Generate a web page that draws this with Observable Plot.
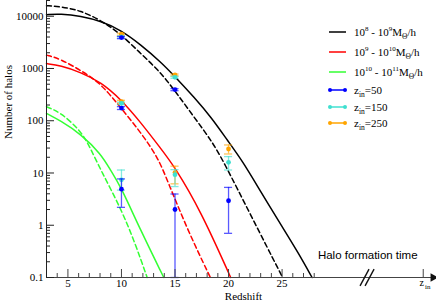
<!DOCTYPE html>
<html><head><meta charset="utf-8">
<script src="https://cdn.jsdelivr.net/npm/d3@7"></script>
<script src="https://cdn.jsdelivr.net/npm/@observablehq/plot@0.6"></script>
<style>
body{margin:0;background:#fff;}
#wrap{position:relative;width:436px;height:305px;font-family:"Liberation Serif","Times New Roman",serif;}
#legend .row{position:absolute;left:328px;height:14px;display:flex;align-items:center;font-size:11px;white-space:nowrap;color:#000;}
#legend svg{margin-right:7px;}
sup{font-size:7px;vertical-align:5px;line-height:0;}
sub{font-size:7.5px;vertical-align:-3px;line-height:0;}
</style></head>
<body><div id="wrap"><div id="chart"></div><div id="legend"></div></div>
<script>
// ---- curves: redshift z vs number of halos ----
const bsZ = [3, 4.3, 6.2, 8.1, 9.9, 11.8, 13.7, 15, 16.8, 18.4, 19.9, 21.3, 23, 25, 26.5, 27.8];
const bsN = [10700, 11100, 10100, 8000, 5500, 2870, 1315, 700, 280, 115, 42, 17, 4.4, 0.94, 0.30, 0.1];
const bdZ = [3, 4.3, 6.2, 8.1, 9.9, 11.8, 13.7, 15.2, 16.8, 18.4, 19.5, 22.1, 25.05];
const bdN = [15900, 15300, 12850, 8270, 4650, 1930, 830, 326, 116, 41.6, 17.2, 1.52, 0.1];
const rsZ = [3, 4.3, 6.2, 8.1, 9.9, 11.8, 13.7, 14.9, 17.4, 20.2];
const rsN = [1240, 1140, 845, 544, 262, 93, 28.8, 13.8, 1.9, 0.1];
const rdZ = [3, 4.3, 6.5, 8.1, 9.9, 11.8, 13.4, 14.3, 16.2, 18.3];
const rdN = [1800, 1530, 845, 507, 181, 60, 19.9, 7.1, 0.79, 0.1];
const gsZ = [3, 4.3, 6.2, 8.1, 9.0, 9.9, 11.8, 13.95];
const gsN = [138, 100, 55.8, 23.1, 11.1, 5.7, 0.79, 0.1];
const gdZ = [3, 4.3, 6.2, 7.1, 8.1, 9.9, 11.2, 12.4];
const gdN = [185, 145, 64.6, 30, 11, 2.19, 0.5, 0.1];

// ---- simulation points with error bars ----
const z50Z  = [10, 10, 10, 15, 15, 20];
const z50N  = [3900, 175, 4.9, 394, 2.0, 2.94];
const z50Lo = [3720, 164, 2.2, 376, 0.1, 0.7];
const z50Hi = [4080, 186, 7.7, 412, 3.96, 5.3];
const z150Z  = [10, 10, 10, 15, 15, 20];
const z150N  = [4000, 215, 7.4, 678, 9.3, 16];
const z150Lo = [3820, 203, 4.7, 650, 5.5, 11.4];
const z150Hi = [4180, 227, 11.4, 706, 11.6, 20.6];
const z250Z  = [10, 10, 15, 15, 20];
const z250N  = [4520, 232, 753, 10.2, 28.8];
const z250Lo = [4320, 218, 722, 6.2, 23.1];
const z250Hi = [4720, 246, 784, 13.5, 34.4];

// ---- axes ----
const xMajor = [5, 10, 15, 20, 25];
const xMinor = [4, 6, 7, 8, 9, 11, 12, 13, 14, 16, 17, 18, 19, 21, 22, 23, 24, 26, 27, 28];
const yMajor = [0.1, 1, 10, 100, 1000, 10000];
const yMinor = [0.2,0.3,0.4,0.5,0.6,0.7,0.8,0.9, 2,3,4,5,6,7,8,9, 20,30,40,50,60,70,80,90,
                200,300,400,500,600,700,800,900, 2000,3000,4000,5000,6000,7000,8000,9000, 20000];
const xDomain = [3, 39.42];
const yDomain = [0.1, 20000];
const zinTick = [38.18];
const xLabel = "Redshift";
const yLabel = "Number of halos";
const noteText = "Halo formation time";
const noteZ = 33.0;
const breakMarks = [{x1: 32.28, y1: 0.0693, x2: 33.12, y2: 0.1448}, {x1: 32.75, y1: 0.0693, x2: 33.59, y2: 0.1448}];
const arrowZ = [39.1];

const W = 436, H = 305, mL = 46, mB = 28;
const PW = W - mL, PH = H - mB;

const rows = (zs, ns) => zs.map((z, i) => ({z, n: ns[i]}));
const pts = (zs, ns, lo, hi) => zs.map((z, i) => ({z, n: ns[i], lo: lo[i], hi: hi[i]}));
const capHalf = 0.38;

const curves = [
  {d: rows(bsZ, bsN), c: "#000000", dash: null},
  {d: rows(bdZ, bdN), c: "#000000", dash: "5,3"},
  {d: rows(rsZ, rsN), c: "#ff0000", dash: null},
  {d: rows(rdZ, rdN), c: "#ff0000", dash: "5,3"},
  {d: rows(gsZ, gsN), c: "#33ff33", dash: null},
  {d: rows(gdZ, gdN), c: "#33ff33", dash: "5,3"},
];
const groups = [
  {d: pts(z250Z, z250N, z250Lo, z250Hi), c: "#ffa500"},
  {d: pts(z150Z, z150N, z150Lo, z150Hi), c: "#40e0d0"},
  {d: pts(z50Z, z50N, z50Lo, z50Hi), c: "#0000ff"},
];

const axisCol = "#444";
const marks = [];
curves.forEach(s => marks.push(Plot.line(s.d, {x: "z", y: "n", stroke: s.c, strokeWidth: 1.5, strokeDasharray: s.dash, curve: "basis"})));
groups.forEach(g => {
  marks.push(Plot.ruleX(g.d, {x: "z", y1: "lo", y2: "hi", stroke: g.c, strokeOpacity: 0.65, strokeWidth: 1.3}));
  marks.push(Plot.ruleY(g.d, {y: "lo", x1: d => d.z - capHalf, x2: d => d.z + capHalf, stroke: g.c, strokeOpacity: 0.65, strokeWidth: 1.3}));
  marks.push(Plot.ruleY(g.d, {y: "hi", x1: d => d.z - capHalf, x2: d => d.z + capHalf, stroke: g.c, strokeOpacity: 0.65, strokeWidth: 1.3}));
  marks.push(Plot.dot(g.d, {x: "z", y: "n", r: 2.4, fill: g.c, stroke: "none"}));
});
// axes lines
marks.push(Plot.ruleX([xDomain[0]], {stroke: "#222", strokeWidth: 1}));
marks.push(Plot.ruleY([yDomain[0]], {stroke: axisCol, strokeWidth: 1.2}));
// y ticks (inward)
marks.push(Plot.tickY(yMajor, {y: d => d, insetRight: PW - 8, stroke: "#222"}));
marks.push(Plot.tickY(yMinor, {y: d => d, insetRight: PW - 4, stroke: "#222"}));
// x ticks (inward)
marks.push(Plot.tickX(xMajor, {x: d => d, insetTop: PH - 8, stroke: axisCol}));
marks.push(Plot.tickX(xMinor, {x: d => d, insetTop: PH - 4, stroke: axisCol}));
marks.push(Plot.tickX(zinTick, {x: d => d, insetTop: PH - 8, stroke: axisCol}));
// tick labels
marks.push(Plot.axisY(yMajor, {tickSize: 0, tickPadding: 3, tickFormat: d => String(d), label: null, fontSize: 11}));
marks.push(Plot.axisX(xMajor, {tickSize: 0, tickPadding: 2, tickFormat: d => String(d), label: null, fontSize: 11}));
// axis titles
marks.push(Plot.text([yLabel], {text: d => d, frameAnchor: "left", rotate: -90, dx: -38, fontSize: 11}));
marks.push(Plot.text([xLabel], {text: d => d, frameAnchor: "bottom", dx: 2, dy: 22.5, fontSize: 11}));
// z_in label
marks.push(Plot.text(zinTick, {x: d => d, text: () => "z", frameAnchor: "bottom", dy: 8, dx: -1.5, fontSize: 10}));
marks.push(Plot.text(zinTick, {x: d => d, text: () => "in", frameAnchor: "bottom", dy: 11, dx: 4.5, fontSize: 7}));
// annotation
marks.push(Plot.text([noteText], {x: noteZ, text: d => d, frameAnchor: "bottom", dy: -19, fontSize: 11.5, fontFamily: "Liberation Sans, Arial, sans-serif"}));
// axis break and arrow
marks.push(Plot.link(breakMarks, {x1: "x1", y1: "y1", x2: "x2", y2: "y2", stroke: "#111", strokeWidth: 1.4}));
marks.push(Plot.dot(arrowZ, {x: d => d, y: yDomain[0], symbol: "triangle", rotate: 90, r: 3.2, fill: "#111", stroke: "none"}));

const chart = Plot.plot({
  width: W, height: H, marginLeft: mL, marginRight: 0, marginTop: 0, marginBottom: mB,
  x: {domain: xDomain, axis: null},
  y: {type: "log", domain: yDomain, axis: null},
  style: {fontFamily: "Liberation Serif, Times New Roman, serif", fontSize: "11px", background: "white", overflow: "visible"},
  marks
});
document.getElementById("chart").append(chart);

// ---- legend ----
const legendItems = [
  {html: "10<sup>8</sup> - 10<sup>9</sup>M<sub>Θ</sub>/h", c: "#000000", dots: false},
  {html: "10<sup>9</sup> - 10<sup>10</sup>M<sub>Θ</sub>/h", c: "#ff0000", dots: false},
  {html: "10<sup>10</sup> - 10<sup>11</sup>M<sub>Θ</sub>/h", c: "#33ff33", dots: false},
  {html: "z<sub>in</sub>=50", c: "#0000ff", dots: true},
  {html: "z<sub>in</sub>=150", c: "#40e0d0", dots: true},
  {html: "z<sub>in</sub>=250", c: "#ffa500", dots: true},
];
const legendY = [32, 52, 72, 90, 107, 123];
const leg = document.getElementById("legend");
legendItems.forEach((it, i) => {
  const row = document.createElement("div");
  row.className = "row";
  row.style.top = (legendY[i] - 7) + "px";
  const sw = `<svg width="19" height="8"><line x1="${it.dots ? 2 : 1}" y1="4" x2="${it.dots ? 17 : 18}" y2="4" stroke="${it.c}" stroke-width="1.5"/>` +
    (it.dots ? `<circle cx="2" cy="4" r="2" fill="${it.c}"/><circle cx="17" cy="4" r="2" fill="${it.c}"/>` : "") + `</svg>`;
  row.innerHTML = sw + `<span>${it.html}</span>`;
  leg.append(row);
});
</script>
</body></html>
